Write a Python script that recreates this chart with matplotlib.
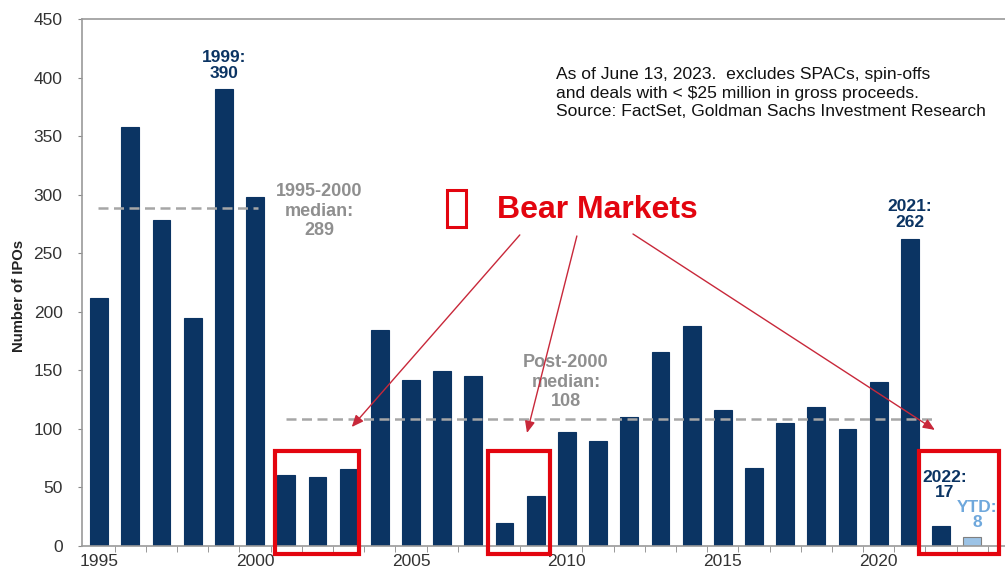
import matplotlib
matplotlib.use("Agg")
import matplotlib.pyplot as plt
from matplotlib.patches import Rectangle
import numpy as np

plt.rcParams['font.family'] = ['Liberation Sans', 'DejaVu Sans']

# IPOs por ano (2023 = acumulado no ano)
anos = list(range(1995, 2024))
ipos = [212, 358, 278, 195, 390, 298, 61, 59, 66, 184, 142, 149, 145, 20, 43,
        97, 90, 110, 166, 188, 116, 67, 105, 119, 100, 140, 262, 17, 8]
ano_ytd = 2023

mediana_pre = 289    # 1995-2000
mediana_pos = 108    # pós-2000

# períodos de bear market destacados
bear_markets = [(2001, 2003), (2008, 2009), (2022, 2023)]
# folga de cada caixa (esquerda, direita)
folgas = [(0.36, 0.34), (0.54, 0.46), (0.72, 0.85)]

rotulos_x = [1995, 2000, 2005, 2010, 2015, 2020]

azul = '#0b3463'
azul_claro = '#9cc3e6'
cinza = '#a6a6a6'
cinza_txt = '#8f8f8f'
vermelho = '#e3050f'
vermelho_seta = '#c8283a'

fig = plt.figure(figsize=(10.05, 5.72), dpi=100)
ax = fig.add_axes([0.0816, 0.0455, 0.9184, 0.9213])

cores = [azul_claro if a == ano_ytd else azul for a in anos]
bordas = ['#7f7f7f' if a == ano_ytd else azul for a in anos]
ax.bar(anos, ipos, width=0.57, color=cores, edgecolor=bordas, linewidth=0.8, zorder=2)

# linhas de mediana
ax.plot([1994.95, 2000.1], [mediana_pre, mediana_pre], ls=(0, (4, 2.2)), color=cinza, lw=1.8, zorder=3)
ax.plot([2001, 2021.8], [mediana_pos, mediana_pos], ls=(0, (4, 2.2)), color=cinza, lw=1.8, zorder=3)
ax.text(2002.05, 286, f"1995-2000\nmedian:\n{mediana_pre}", ha='center', va='center',
        fontsize=13, fontweight='bold', color=cinza_txt, linespacing=1.2)
ax.text(2009.97, 140, f"Post-2000\nmedian:\n{mediana_pos}", ha='center', va='center',
        fontsize=13, fontweight='bold', color=cinza_txt, linespacing=1.2)

# rótulos dos destaques
v = dict(zip(anos, ipos))
ax.text(1999, v[1999] + 7, f"1999:\n{v[1999]}", ha='center', va='bottom',
        fontsize=12.5, fontweight='bold', color=azul, linespacing=1.05)
ax.text(2021, v[2021] + 8, f"2021:\n{v[2021]}", ha='center', va='bottom',
        fontsize=12.5, fontweight='bold', color=azul, linespacing=1.05)
ax.text(2022.1, v[2022] + 22, f"2022:\n{v[2022]}", ha='center', va='bottom',
        fontsize=12.5, fontweight='bold', color=azul, linespacing=1.0)
ax.text(2023.15, v[2023] + 6, f"YTD:\n{v[2023]}", ha='center', va='bottom',
        fontsize=12.5, fontweight='bold', color='#6fa8dc', linespacing=1.0)

# caixas dos bear markets
for (ini, fim), (fe, fd) in zip(bear_markets, folgas):
    ax.add_patch(Rectangle((ini - fe, -6.8), fim - ini + fe + fd, 87.9, fill=False,
                           edgecolor=vermelho, lw=3, zorder=4, clip_on=False))

# legenda manual
ax.add_patch(Rectangle((2006.15, 272), 0.6, 32, fill=False, edgecolor=vermelho, lw=2.2, zorder=4))
ax.text(2007.75, 287, "Bear Markets", ha='left', va='center', fontsize=23,
        fontweight='bold', color=vermelho)

setas = [((2008.49, 265.6), (2003.1, 101.6)),
         ((2010.32, 264.7), (2008.72, 96.5)),
         ((2012.12, 266.4), (2021.8, 99.1))]
for origem, destino in setas:
    ax.annotate("", xy=destino, xytext=origem,
                arrowprops=dict(arrowstyle='-|>,head_length=0.7,head_width=0.3',
                                color=vermelho_seta, lw=1.0, shrinkA=0, shrinkB=0))

ax.text(2009.65, 409, "As of June 13, 2023.  excludes SPACs, spin-offs\n"
        "and deals with < \\$25 million in gross proceeds.\n"
        "Source: FactSet, Goldman Sachs Investment Research",
        ha='left', va='top', fontsize=12.6, color='#111111', linespacing=1.3)

# eixos
ax.set_xlim(1994.45, 2024.05)
ax.set_ylim(0, 450)
ax.set_yticks(np.arange(0, 451, 50))
ax.set_xticks(rotulos_x)
ax.set_xticks(np.arange(1995.5, 2024, 1), minor=True)
ax.tick_params(axis='x', which='major', length=0, labelsize=12.5, pad=6, colors='#333333')
ax.tick_params(axis='x', which='minor', length=4, color='#888888', direction='out')
ax.tick_params(axis='y', length=3, color='#888888', labelsize=12.5, colors='#333333', pad=11)
ax.set_ylabel("Number of IPOs", fontsize=10.7, fontweight='bold', color='#222222')
ax.yaxis.set_label_coords(-0.061, 0.474)

for lado in ['left', 'bottom', 'top']:
    ax.spines[lado].set_color('#9a9a9a')
    ax.spines[lado].set_linewidth(1.2)
ax.spines['right'].set_visible(False)

fig.savefig("out.png", dpi=100)
